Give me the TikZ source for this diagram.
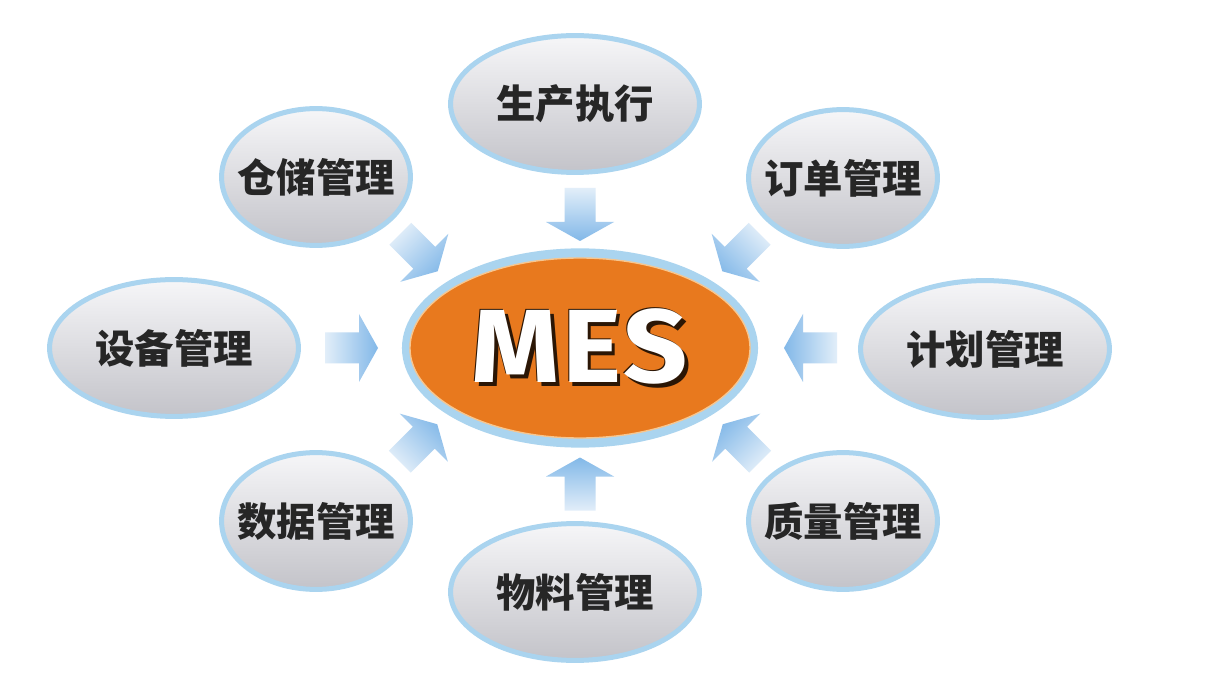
\documentclass[tikz,border=0pt]{standalone}
\usepackage{fontspec}
\setmainfont{Noto Sans}
\newfontfamily\cjk{Noto Sans CJK SC}
\newfontfamily\mesfont{Fira Sans}
\usepackage{tikz}
\usetikzlibrary{shapes.geometric}
\definecolor{ringblue}{HTML}{AAD4EF}
\definecolor{balltop}{HTML}{F6F6F8}
\definecolor{ballgray}{HTML}{C3C3C9}
\definecolor{mesorange}{HTML}{E8791E}
\definecolor{mesedge}{HTML}{F6C690}
\definecolor{meshadow}{HTML}{2B1605}
\definecolor{arrowlight}{HTML}{E2EEF9}
\definecolor{arrowdark}{HTML}{82B8E8}
\definecolor{labelgray}{HTML}{262626}
\tikzstyle{module} = [ellipse, draw=ringblue, line width=0.125cm, top color=balltop, bottom color=ballgray, minimum height=3.42cm, inner sep=0pt, inner xsep=-1cm, text=labelgray, font=\cjk\bfseries\fontsize{28}{30}\selectfont]
\tikzstyle{wide} = [module, minimum width=6.22cm]
\tikzstyle{narrow} = [module, minimum width=4.72cm]
\tikzstyle{inarrow} = [left color=arrowlight, right color=arrowdark]
\newcommand{\shadowword}[1]{%
  \makebox[0pt][l]{\hspace{2.5pt}\raisebox{-2.5pt}{\textcolor{meshadow}{#1}}}%
  \makebox[0pt][l]{\hspace{-0.8pt}\raisebox{0.8pt}{\textcolor{meshadow}{#1}}}#1}

\begin{document}
\begin{tikzpicture}[x=0.025cm, y=0.025cm]
    \useasboundingbox[fill=white] (0,0) rectangle (1208,678);
    % arrows pointing to the centre
    \foreach \x/\y/\a/\s in {580/463.5/-90/0, 419/425.5/-45/45, 741/425.5/-135/-45, 351.5/330/0/90,
                             810.5/330/180/270, 418.5/235/45/135, 741.5/235/135/225, 580/194/90/180}{
        \begin{scope}[shift={(\x,\y)}, rotate=\a]
            \path[inarrow, shading angle=\s] (-26.5,-15.5) -- (7.5,-15.5) -- (7.5,-34) -- (26.5,0)
                -- (7.5,34) -- (7.5,15.5) -- (-26.5,15.5) -- cycle;
        \end{scope}
    }
    % centre
    \node (ring) [ellipse, fill=ringblue, minimum width=8.9cm, minimum height=4.98cm] at (580,330) {};
    \node (mes) [ellipse, fill=mesorange, draw=mesedge, line width=1pt, minimum width=8.5cm, minimum height=4.5cm,
        inner sep=0pt, text=white, font=\mesfont\bfseries\fontsize{74}{74}\selectfont] at (580,330)
        {\shadowword{\scalebox{1.08}[1]{M\kern1.5pt E\kern1.5pt S}}};
    % modules
    \node (prod) [wide] at (575,574) {生产执行};
    \node (store) [narrow] at (316,501) {仓储管理};
    \node (order) [narrow] at (843,500) {订单管理};
    \node (equip) [wide] at (174,330) {设备管理};
    \node (plan) [wide] at (985,329) {计划管理};
    \node (data) [narrow] at (316,157) {数据管理};
    \node (quality) [narrow] at (843,157) {质量管理};
    \node (material) [wide] at (575,86) {物料管理};
\end{tikzpicture}
\end{document}
